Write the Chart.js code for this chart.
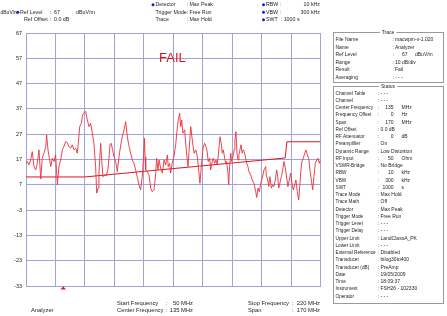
<!DOCTYPE html>
<html>
<head>
<meta charset="utf-8">
<script src="https://cdn.jsdelivr.net/npm/chart.js"></script>
<style>
  body { margin: 0; background: #fff; }
  canvas { display: block; }
</style>
</head>
<body>
<canvas id="spectrum" width="447" height="316"></canvas>
<script>
// trace (max hold), MHz / dBuV/m
const traceFreq = [50.0, 50.8, 51.7, 52.7, 53.6, 54.6, 55.6, 56.5, 57.5, 58.5, 59.4, 60.4, 61.4, 61.9, 62.7, 63.3, 64.3, 65.2, 66.2, 67.1,
  68.1, 69.0, 70.0, 71.0, 71.9, 72.9, 73.8, 74.8, 75.8, 76.7, 77.7, 78.7, 79.6, 80.2, 81.0, 81.9, 82.7, 83.5, 84.5, 85.4,
  86.4, 87.3, 88.3, 89.2, 90.2, 90.8, 91.6, 92.1, 93.1, 93.7, 94.4, 95.4, 96.2, 97.3, 98.5, 99.2, 100.0, 100.8, 101.8, 102.7,
  103.7, 104.7, 105.6, 106.6, 107.5, 108.5, 109.5, 110.4, 111.4, 112.3, 113.3, 114.2, 115.2, 116.2, 117.1, 118.1, 118.4, 118.7, 119.1, 120.0,
  121.0, 122.0, 122.9, 123.9, 124.9, 125.4, 126.2, 126.8, 127.7, 128.7, 129.7, 130.6, 131.6, 132.1, 132.9, 133.5, 134.4, 135.4, 136.4, 137.3,
  137.9, 138.7, 139.3, 139.9, 140.6, 141.6, 142.5, 143.5, 144.1, 145.1, 146.0, 147.0, 148.0, 148.9, 149.5, 150.4, 151.2, 152.2, 153.1, 153.9,
  154.6, 155.2, 156.0, 156.6, 157.5, 158.1, 158.9, 159.7, 160.4, 161.4, 162.0, 162.7, 163.3, 163.9, 164.7, 165.3, 165.8, 166.6, 167.0, 167.6,
  168.2, 168.7, 169.3, 170.1, 170.6, 171.2, 171.8, 172.4, 172.9, 173.5, 174.1, 174.8, 175.4, 176.0, 176.8, 177.4, 178.1, 178.7, 179.7, 180.6,
  181.6, 182.6, 183.2, 183.9, 184.7, 185.5, 186.4, 187.4, 188.4, 188.7, 189.5, 190.1, 190.8, 191.6, 192.4, 193.1, 193.9, 194.7, 195.3, 195.9,
  196.8, 197.4, 198.2, 198.9, 199.7, 200.5, 201.2, 202.0, 202.8, 203.5, 204.3, 205.1, 205.8, 206.6, 207.4, 208.0, 208.7, 209.3, 210.1, 210.9,
  211.6, 212.4, 213.2, 213.9, 214.7, 215.5, 216.2, 217.0, 217.8, 218.5, 219.3, 220.0];
const traceLevel = [15.5, 16.2, 14.9, 16.9, 20.1, 14.2, 12.9, 15.5, 20.8, 9.3, 17.6, 19.6, 22.1, 26.7, 20.8, 18.1, 14.2, 17.5, 16.2, 18.8,
  7.0, 14.2, 16.8, 20.8, 22.1, 24.1, 23.7, 22.1, 21.5, 22.8, 20.8, 21.5, 19.5, 23.4, 30.0, 31.3, 34.6, 35.5, 36.0, 32.6,
  30.0, 31.3, 27.4, 23.4, 14.2, 3.7, 5.7, 11.6, 23.4, 16.8, 10.2, 10.9, 10.5, 12.9, 22.8, 23.4, 20.8, 18.1, 16.2, 12.2,
  18.1, 22.8, 26.0, 28.7, 32.0, 26.0, 22.1, 19.5, 16.8, 15.5, 12.9, 10.2, 7.0, 5.0, 10.2, 20.8, 25.4, 18.1, 12.9, 12.2,
  10.9, 5.7, 4.3, 5.0, 11.6, 17.5, 12.9, 16.8, 13.6, 11.6, 16.8, 14.9, 18.8, 14.2, 15.5, 11.6, 15.5, 18.1, 22.8, 29.4,
  32.6, 35.3, 30.0, 32.6, 27.4, 28.7, 20.8, 14.2, 20.1, 30.0, 24.7, 19.5, 20.8, 18.1, 14.2, 7.6, 14.2, 21.5, 23.4, 22.1,
  20.1, 16.2, 17.5, 12.9, 16.2, 17.5, 15.5, 16.8, 14.9, 21.5, 26.0, 23.4, 19.5, 20.8, 17.5, 15.5, 16.2, 11.6, 7.0, 14.9,
  19.5, 16.2, 17.5, 20.8, 24.7, 28.0, 19.5, 16.8, 18.8, 20.8, 22.8, 19.5, 20.8, 20.1, 17.5, 15.5, 14.2, 12.2, 10.9, 8.9,
  7.6, 4.3, 2.0, 5.7, 4.3, 7.6, 9.6, 12.9, 14.2, 10.9, 8.9, 6.3, 10.2, 5.7, 7.0, 6.3, 8.9, 12.9, 10.2, 5.7,
  8.3, 10.2, 12.9, 16.2, 13.6, 9.6, 6.3, 8.9, 11.6, 7.6, 5.0, 7.0, 8.9, 4.3, 1.0, 6.3, 12.9, 16.2, 17.5, 19.5,
  20.8, 18.8, 17.5, 12.9, 8.9, 5.0, 10.2, 15.5, 16.8, 17.5, 15.5, 16.8];

// upper limit line (LandClassA_PK)
const limitFreq = [50, 84, 199.6, 200.6, 220];
const limitLevel = [10.1, 10.1, 17.6, 24.0, 24.0];

const markerFreq = [71.5];

const yTicks = [-33, -23, -13, -3, 7, 17, 27, 37, 47, 57, 67];
const xGrid = [50, 67, 84, 101, 118, 135, 152, 169, 186, 203, 220];

const traceRows = [
  ["File Name", "macwpm-v-1.020", ""],
  ["Name", "Analyzer", ""],
  ["Ref Level", "67", "dBuV/m"],
  ["Range", "10 dB/div", ""],
  ["Result", "Fail", ""],
  ["Averaging", "- - -", ""]
];
const statusRows = [
  ["Channel Table", "- - -", ""],
  ["Channel", "- - -", ""],
  ["Center Frequency", "135", "MHz"],
  ["Frequency Offset", "0", "Hz"],
  ["Span", "170", "MHz"],
  ["Ref Offset", "0.0 dB", ""],
  ["RF Attenuator", "0", "dB"],
  ["Preamplifier", "On", ""],
  ["Dynamic Range", "Low Distortion", ""],
  ["RF Input", "50", "Ohm"],
  ["VSWR-Bridge", "No Bridge", ""],
  ["RBW", "10", "kHz"],
  ["VBW", "300", "kHz"],
  ["SWT", "1000", "s"],
  ["Trace Mode", "Max Hold", ""],
  ["Trace Math", "Off", ""],
  ["Detector", "Max Peak", ""],
  ["Trigger Mode", "Free Run", ""],
  ["Trigger Level", "- - -", ""],
  ["Trigger Delay", "- - -", ""],
  ["Upper Limit", "LandClassA_PK", ""],
  ["Lower Limit", "- - -", ""],
  ["External Reference", "Disabled", ""],
  ["Transducer", "bilog30to400", ""],
  ["Transducer (dB)", "PreAmp", ""],
  ["Date", "19/05/2009", ""],
  ["Time", "18:09:37", ""],
  ["Instrument", "FSH26 - 102330", ""],
  ["Operator", "- - -", ""]
];

const FONT = "'Liberation Sans', Arial, sans-serif";
const GRID = "#a2a2d4";
const TEXT = "#1e1e1e";

function txt(ctx, s, x, y, size, align, color) {
  ctx.font = size + "px " + FONT;
  ctx.textAlign = align || "left";
  ctx.textBaseline = "middle";
  ctx.fillStyle = color || TEXT;
  ctx.fillText(s, x, y);
}

function dot(ctx, x, y) {
  ctx.fillStyle = "#1020d0";
  ctx.beginPath();
  ctx.arc(x, y, 1.5, 0, Math.PI * 2);
  ctx.fill();
}

function groupBox(ctx, x, y, w, h, title) {
  ctx.strokeStyle = "#9a9a9a";
  ctx.lineWidth = 1;
  ctx.strokeRect(x + 0.5, y + 0.5, w, h);
  ctx.strokeStyle = "#ffffff";
  ctx.strokeRect(x + 1.5, y + 1.5, w - 2, h - 2);
  ctx.font = "5px " + FONT;
  const tw = ctx.measureText(title).width;
  const cx = x + w / 2;
  ctx.fillStyle = "#fff";
  ctx.fillRect(cx - tw / 2 - 2, y - 2, tw + 4, 5);
  txt(ctx, title, cx, y + 0.5, 5, "center");
}

const bgPlugin = {
  id: "bg",
  beforeDraw(chart) {
    const c = chart.ctx;
    c.save();
    c.fillStyle = "#fff";
    c.fillRect(0, 0, chart.width, chart.height);
    c.restore();
  }
};

const overlayPlugin = {
  id: "overlay",
  afterDraw(chart) {
    const c = chart.ctx;
    const xs = chart.scales.x;
    const area = chart.chartArea;
    c.save();

    // header
    txt(c, "dBuV/m", 0.5, 12.3, 5);
    dot(c, 17.8, 12.3);
    txt(c, "Ref Level", 20, 12.3, 5.3);
    txt(c, ":", 50, 12.3, 5.3);
    txt(c, "67", 54, 12.3, 5.3);
    txt(c, "dBuV/m", 76, 12.3, 5.3);
    txt(c, "Ref Offset", 24, 19.8, 5.3);
    txt(c, ":", 50, 19.8, 5.3);
    txt(c, "0.0 dB", 54, 19.8, 5.3);

    dot(c, 153, 4.7);
    txt(c, "Detector", 155.5, 4.7, 5.3);
    txt(c, "Trigger Mode", 155.5, 12.3, 5.3);
    txt(c, "Trace", 155.5, 19.8, 5.3);
    txt(c, ": Max Peak", 186.5, 4.7, 5.3);
    txt(c, ": Free Run", 186.5, 12.3, 5.3);
    txt(c, ": Max Hold", 186.5, 19.8, 5.3);

    dot(c, 263.5, 4.7);
    dot(c, 263.5, 12.3);
    dot(c, 263.5, 19.8);
    txt(c, "RBW :", 266, 4.7, 5.3);
    txt(c, "VBW :", 266, 12.3, 5.3);
    txt(c, "SWT  : 1000 s", 266, 19.8, 5.3);
    txt(c, "10 kHz", 320, 4.7, 5.3, "right");
    txt(c, "300 kHz", 320, 12.3, 5.3, "right");

    // FAIL
    txt(c, "FAIL", 159, 58, 13, "left", "#e0101c");

    // marker below x axis
    const mx = xs.getPixelForValue(markerFreq[0]);
    c.fillStyle = "#e0101c";
    c.beginPath();
    c.moveTo(mx, area.bottom + 0.5);
    c.lineTo(mx - 2.8, area.bottom + 3.5);
    c.lineTo(mx + 2.8, area.bottom + 3.5);
    c.closePath();
    c.fill();

    // footer
    txt(c, "Analyzer", 31, 310.7, 5.8);
    txt(c, "Start Frequency", 117, 303.3, 5.8);
    txt(c, ":", 166, 303.3, 5.8);
    txt(c, "50 MHz", 193, 303.3, 5.8, "right");
    txt(c, "Center Frequency", 117, 310.7, 5.8);
    txt(c, ":", 166, 310.7, 5.8);
    txt(c, "135 MHz", 193, 310.7, 5.8, "right");
    txt(c, "Stop Frequency", 248, 303.3, 5.8);
    txt(c, ":", 292, 303.3, 5.8);
    txt(c, "220 MHz", 320, 303.3, 5.8, "right");
    txt(c, "Span", 248, 310.7, 5.8);
    txt(c, ":", 292, 310.7, 5.8);
    txt(c, "170 MHz", 320, 310.7, 5.8, "right");

    // right panel
    groupBox(c, 333, 32, 110, 50, "Trace");
    traceRows.forEach((r, i) => {
      const y = 40 + i * 7.45;
      txt(c, r[0], 335.5, y, 5);
      txt(c, ":", 392.5, y, 5);
      if (r[2]) {
        txt(c, r[1], 407.5, y, 5, "right");
        txt(c, r[2], 415, y, 5);
      } else {
        txt(c, r[1], 395, y, 5);
      }
    });

    groupBox(c, 333, 86, 110, 217, "Status");
    statusRows.forEach((r, i) => {
      const y = 93.3 + i * 7.25;
      txt(c, r[0], 335.5, y, 4.7);
      txt(c, ":", 377.5, y, 5);
      if (r[2]) {
        txt(c, r[1], 393.5, y, 5, "right");
        txt(c, r[2], 401.5, y, 5);
      } else {
        txt(c, r[1], 380.5, y, 5);
      }
    });

    c.restore();
  }
};

const ctx = document.getElementById("spectrum").getContext("2d");
const chart = new Chart(ctx, {
  type: "line",
  data: {
    datasets: [
      {
        label: "Trace",
        data: traceFreq.map((f, i) => ({ x: f, y: traceLevel[i] })),
        borderColor: "rgb(236, 48, 58)",
        borderWidth: 0.9,
        pointRadius: 0,
        tension: 0
      },
      {
        label: "Upper Limit",
        data: limitFreq.map((f, i) => ({ x: f, y: limitLevel[i] })),
        borderColor: "rgb(225, 20, 30)",
        borderWidth: 1,
        pointRadius: 0,
        tension: 0
      }
    ]
  },
  options: {
    responsive: false,
    animation: false,
    devicePixelRatio: 1,
    layout: { padding: { left: 0, top: 33, right: 126.5, bottom: 30 } },
    plugins: { legend: { display: false }, tooltip: { enabled: false } },
    scales: {
      x: {
        type: "linear",
        min: 50,
        max: 220,
        afterBuildTicks: (s) => { s.ticks = xGrid.map(v => ({ value: v })); },
        afterFit: (s) => { s.height = 0; },
        ticks: { display: false },
        grid: { color: GRID, lineWidth: 1, drawTicks: false },
        border: { color: GRID }
      },
      y: {
        min: -33,
        max: 67,
        afterBuildTicks: (s) => { s.ticks = yTicks.map(v => ({ value: v })); },
        afterFit: (s) => { s.width = 26; },
        ticks: {
          padding: 4,
          color: TEXT,
          font: { size: 5.5, family: FONT }
        },
        grid: { color: GRID, lineWidth: 1, drawTicks: false },
        border: { color: GRID }
      }
    }
  },
  plugins: [bgPlugin, overlayPlugin]
});
</script>
</body>
</html>
